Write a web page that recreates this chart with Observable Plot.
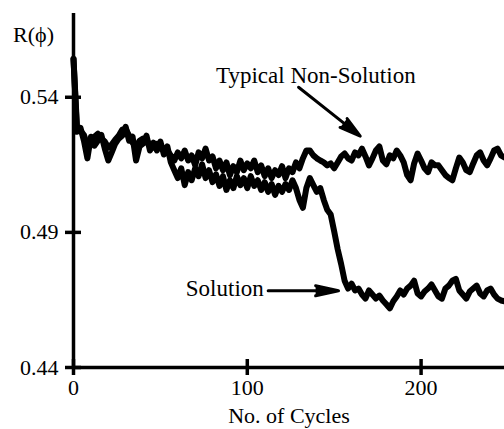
<!DOCTYPE html>
<html><head><meta charset="utf-8">
<script src="https://cdn.jsdelivr.net/npm/d3@7"></script>
<script src="https://cdn.jsdelivr.net/npm/@observablehq/plot@0.6"></script>
<style>
body{margin:0;background:#fff}
#chart svg, #chart svg text { font-family: "Liberation Serif", "Times New Roman", serif !important; }
</style>
</head><body><div id="chart"></div>
<script>
const cycles = [0,2,4,6,8,10,12,14,16,18,20,22,24,26,28,30,32,34,36,38,40,42,44,46,48,50,52,54,56,58,60,62,64,66,68,70,72,74,76,78,80,82,84,86,88,90,92,94,96,98,100,102,104,106,108,110,112,114,116,118,120,122,124,126,128,130,132,134,136,138,140,142,144,146,148,150,152,154,156,158,160,162,164,166,168,170,172,174,176,178,180,182,184,186,188,190,192,194,196,198,200,202,204,206,208,210,212,214,216,218,220,222,224,226,228,230,232,234,236,238,240,242,244,246,248];
const nonSolution = [0.5542,0.5291,0.5276,0.5261,0.5221,0.5239,0.5254,0.5265,0.5247,0.5236,0.5214,0.5225,0.5243,0.5258,0.5280,0.5283,0.5258,0.5232,0.5218,0.5239,0.5247,0.5243,0.5221,0.5214,0.5228,0.5221,0.5210,0.5203,0.5185,
  0.5166,0.5196,0.5174,0.5203,0.5166,0.5185,0.5148,0.5196,0.5174,0.5210,0.5166,0.5181,0.5137,0.5166,0.5130,0.5159,0.5112,0.5145,0.5123,0.5166,0.5130,0.5155,0.5137,0.5166,0.5123,0.5148,0.5108,0.5137,0.5101,0.5130,0.5112,0.5145,0.5101,0.5137,0.5123,0.5159,0.5137,0.5174,0.5203,
  0.5203,0.5185,0.5174,0.5166,0.5159,0.5148,0.5155,0.5137,0.5159,0.5181,0.5192,0.5174,0.5166,0.5196,0.5185,0.5210,0.5181,0.5148,0.5174,0.5203,0.5218,0.5166,0.5152,0.5185,0.5174,0.5203,0.5185,0.5159,0.5112,0.5093,0.5155,0.5192,0.5166,0.5137,0.5123,0.5159,0.5148,0.5148,0.5130,0.5112,0.5101,0.5093,0.5137,0.5177,0.5159,0.5130,0.5123,0.5155,0.5185,0.5196,0.5166,0.5148,0.5174,0.5203,0.5210,0.5185,0.5177];
const solution = [0.5542,0.5272,0.5287,0.5239,0.5174,0.5254,0.5221,0.5239,0.5261,0.5210,0.5166,0.5196,0.5228,0.5247,0.5258,0.5291,0.5239,0.5254,0.5166,0.5218,0.5228,0.5258,0.5203,0.5232,0.5203,0.5236,0.5188,0.5218,0.5159,
  0.5130,0.5101,0.5137,0.5075,0.5123,0.5093,0.5137,0.5108,0.5152,0.5101,0.5130,0.5086,0.5115,0.5072,0.5108,0.5057,0.5093,0.5064,0.5108,0.5075,0.5101,0.5064,0.5108,0.5072,0.5093,0.5057,0.5086,0.5050,0.5079,0.5039,0.5072,0.5050,0.5079,0.5057,0.5093,0.5064,0.5020,0.4991,0.5064,
  0.5101,0.5075,0.5050,0.5064,0.5020,0.4984,0.4966,0.4904,0.4838,0.4783,0.4721,0.4692,0.4710,0.4685,0.4692,0.4670,0.4655,0.4685,0.4670,0.4655,0.4666,0.4648,0.4634,0.4619,0.4645,0.4663,0.4685,0.4670,0.4692,0.4703,0.4721,0.4674,0.4663,0.4681,0.4692,0.4707,0.4685,0.4663,0.4655,0.4692,0.4703,0.4721,0.4728,0.4685,0.4670,0.4655,0.4681,0.4692,0.4703,0.4674,0.4663,0.4685,0.4692,0.4670,0.4655,0.4648,0.4645];
const yTicks = [0.44, 0.49, 0.54];
const yTickLabels = ["0.44", "0.49", "0.54"];
const xTicks = [0, 100, 200];
const xTickLabels = ["0", "100", "200"];
const yTitle = "R(\u03d5)";
const xTitle = "No. of Cycles";
const nonSolutionLabel = {t: "Typical Non-Solution", x: 82, y: 0.5481};
const solutionLabel = {t: "Solution", x: 109.5, y: 0.4691};
const arrowFrom = [[129.5, 0.5437], [112, 0.4684]];
const arrowTo = [[165, 0.5256], [152.5, 0.4684]];

const rows = cycles.flatMap((c, i) => [
  {c, v: nonSolution[i], s: "Typical Non-Solution"},
  {c, v: solution[i], s: "Solution"}
]);
const yMin = 0.44, yMax = 0.571, xMin = 0, xMax = 248;
const arrows = arrowFrom.map((f, i) => ({x1: f[0], y1: f[1], x2: arrowTo[i][0], y2: arrowTo[i][1]}));

const chart = Plot.plot({
  width: 504,
  height: 429,
  marginLeft: 73,
  marginRight: 0,
  marginTop: 13,
  marginBottom: 62,
  style: "font-family: 'Liberation Serif', serif; font-size: 22px; background: #fff; color: #000; overflow: visible;",
  x: {domain: [xMin, xMax], axis: null},
  y: {domain: [yMin, yMax], axis: null},
  marks: [
    Plot.axisY(yTicks, {tickSize: 0, tickPadding: 15, tickFormat: (d, i) => yTickLabels[i], fontSize: 22, label: null}),
    Plot.axisX(xTicks, {tickSize: 0, tickPadding: 12, tickFormat: (d, i) => xTickLabels[i], fontSize: 22, label: null}),
    Plot.ruleX([xMin], {y1: yMin, y2: yMax, strokeWidth: 3.5, stroke: "black"}),
    Plot.ruleY([yMin], {x1: xMin, x2: xMax, strokeWidth: 3.5, stroke: "black"}),
    Plot.ruleY(yTicks, {x1: xMin, x2: xMin, insetLeft: -8, insetRight: -8, strokeWidth: 3.5, stroke: "black"}),
    Plot.ruleX(xTicks, {y1: yMin, y2: yMin, insetTop: -8, insetBottom: -8, strokeWidth: 3.5, stroke: "black"}),
    Plot.line(rows, {x: "c", y: "v", z: "s", stroke: "black", strokeWidth: 6, strokeLinejoin: "round", strokeLinecap: "round"}),
    Plot.text([nonSolutionLabel], {x: "x", y: "y", text: "t", textAnchor: "start", lineAnchor: "middle", fontSize: 23, fill: "black"}),
    Plot.text([solutionLabel], {x: "x", y: "y", text: "t", textAnchor: "end", lineAnchor: "middle", fontSize: 23, fill: "black"}),
    Plot.arrow(arrows.slice(0, 1), {x1: "x1", y1: "y1", x2: "x2", y2: "y2", stroke: "black", fill: "black", strokeWidth: 3, headLength: 11, headAngle: 30}),
    Plot.arrow(arrows.slice(1), {x1: "x1", y1: "y1", x2: "x2", y2: "y2", stroke: "black", fill: "black", strokeWidth: 3, headLength: 13, headAngle: 25}),
    Plot.text([yTitle], {frameAnchor: "top-left", dx: -40, dy: 21, textAnchor: "middle", lineAnchor: "middle", fontSize: 22, fill: "black"}),
    Plot.text([xTitle], {frameAnchor: "bottom", dx: 0, dy: 48, textAnchor: "middle", lineAnchor: "middle", fontSize: 22, fill: "black"})
  ]
});
document.getElementById("chart").appendChild(chart);
</script>
</body></html>
